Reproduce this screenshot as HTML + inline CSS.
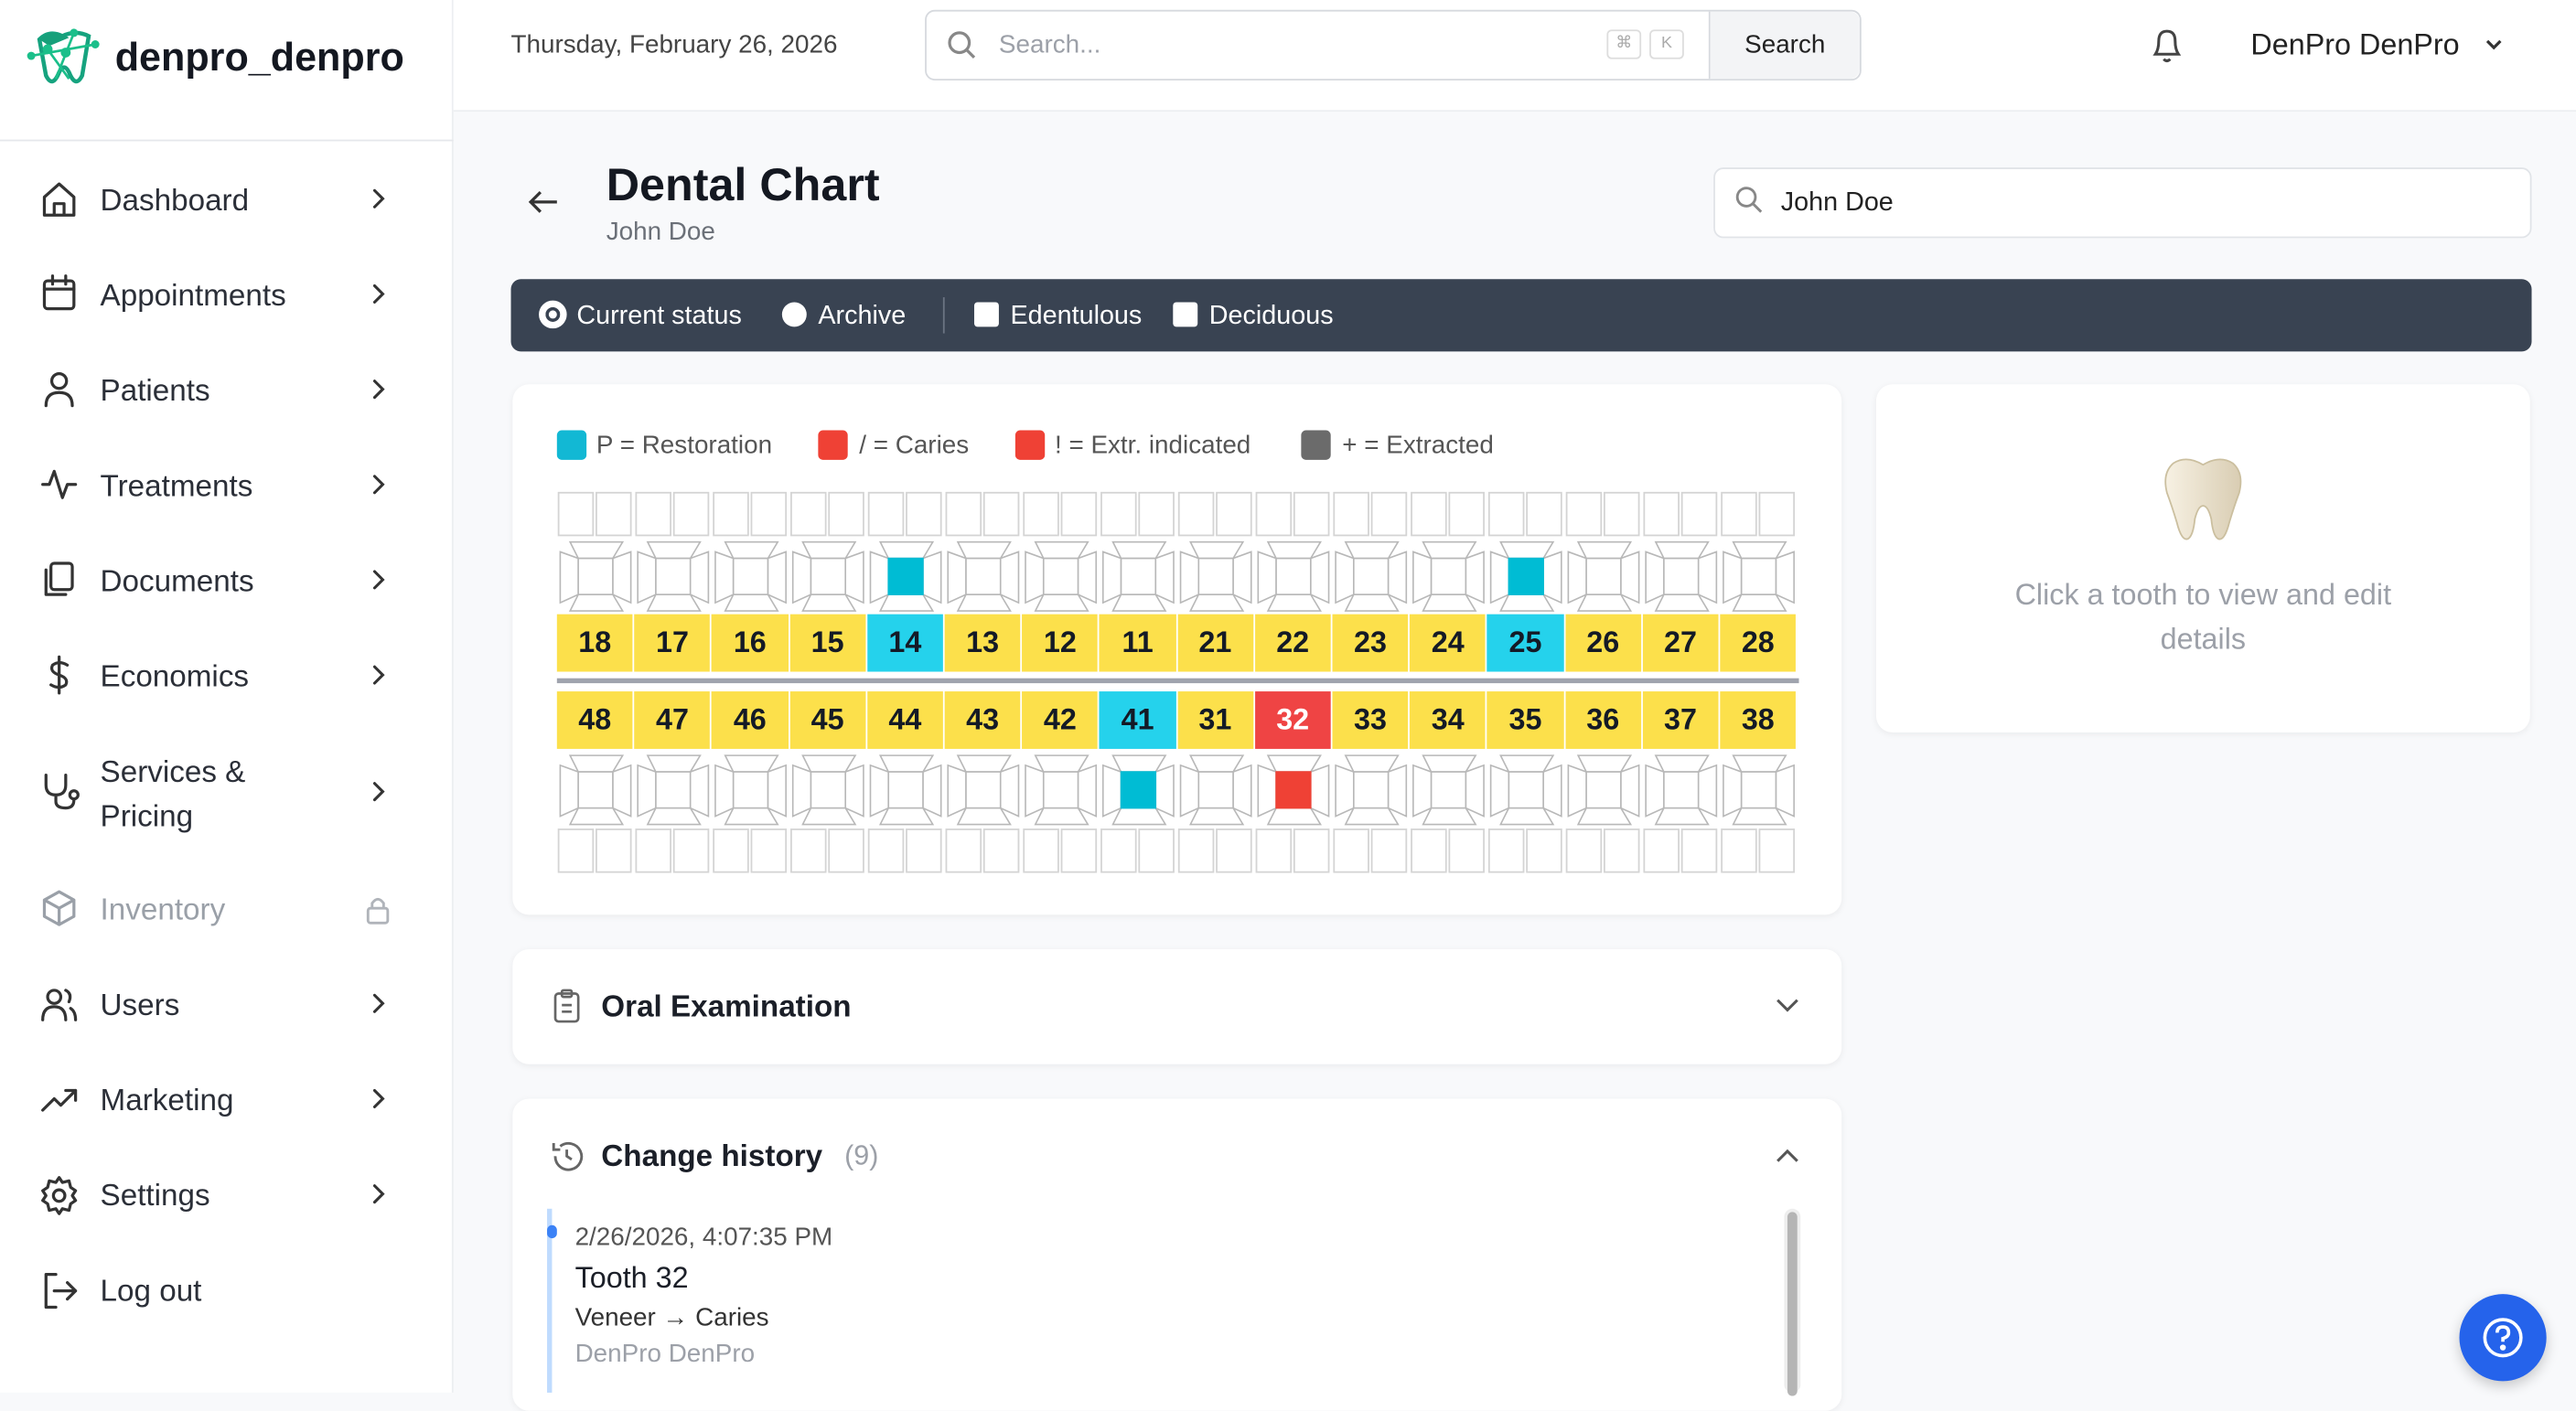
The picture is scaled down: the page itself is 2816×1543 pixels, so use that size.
<!DOCTYPE html>
<html><head><meta charset="utf-8"><style>
*{box-sizing:border-box;margin:0;padding:0}
html,body{width:2816px;height:1522px;overflow:hidden;background:#f8f9fb}
#w{position:absolute;left:0;top:0;width:1568px;height:847.5px;transform:scale(1.79592);transform-origin:0 0;font-family:"Liberation Sans",sans-serif;color:#1f2430;background:#f8f9fb}
.a{position:absolute}
.side{left:0;top:0;width:276px;height:848px;background:#fff;border-right:1px solid #eceef1}
.nav{position:absolute;left:61px;font-size:18.5px;color:#2b2f38}
.chev{position:absolute;left:225px;width:12px;height:14px}
.card{position:absolute;background:#fff;border-radius:10px;box-shadow:0 1px 4px rgba(0,0,0,.06)}
.num{position:absolute;height:35px;width:46.2px;background:#fce04b;font-weight:bold;font-size:18px;text-align:center;line-height:35px;color:#141a26}
</style></head><body><div id="w">
<div class="a side">
  <svg class="a" style="left:16px;top:16px" width="46" height="40" viewBox="0 0 46 40"><path d="M8 8 Q14 2 22 6 Q30 2 38 6 L34 30 Q30 38 26 28 Q23 22 20 28 Q16 38 12 30 Z" fill="none" stroke="#16a37f" stroke-width="2.5"/><path d="M8 8 Q16 0 26 7 L14 12Z" fill="#17a07a"/><g stroke="#1bbf8a" stroke-width="1.5"><line x1="3" y1="18" x2="42" y2="11"/><line x1="13" y1="14" x2="26" y2="32"/><line x1="29" y1="4" x2="18" y2="32"/></g><g fill="#1bbf8a"><circle cx="3" cy="18" r="2.5"/><circle cx="42" cy="11" r="2.5"/><circle cx="29" cy="4" r="2.5"/><circle cx="13" cy="14" r="3"/><circle cx="24" cy="16" r="3"/></g></svg>
  <div class="a" style="left:70px;top:22px;font-size:24px;font-weight:bold;color:#141821">denpro_denpro</div>
  <div class="a" style="left:0;top:85px;width:276px;height:1px;background:#e5e7eb"></div>
  <div class="nav" style="top:111px">Dashboard</div>
  <div class="nav" style="top:169px">Appointments</div>
  <div class="nav" style="top:227px">Patients</div>
  <div class="nav" style="top:285px">Treatments</div>
  <div class="nav" style="top:343px">Documents</div>
  <div class="nav" style="top:401px">Economics</div>
  <div class="nav" style="top:456px;line-height:27px">Services &amp;<br>Pricing</div>
  <div class="nav" style="top:543px;color:#9aa0a8">Inventory</div>
  <div class="nav" style="top:601px">Users</div>
  <div class="nav" style="top:659px">Marketing</div>
  <div class="nav" style="top:717px">Settings</div>
  <div class="nav" style="top:775px">Log out</div>
  <svg class="a" style="left:225px;top:114px" width="12" height="630" fill="none" stroke="#333" stroke-width="1.7" stroke-linecap="round">
   <path d="M3 2 L8 7 L3 12"/><path transform="translate(0,58)" d="M3 2 L8 7 L3 12"/><path transform="translate(0,116)" d="M3 2 L8 7 L3 12"/><path transform="translate(0,174)" d="M3 2 L8 7 L3 12"/><path transform="translate(0,232)" d="M3 2 L8 7 L3 12"/><path transform="translate(0,290)" d="M3 2 L8 7 L3 12"/><path transform="translate(0,361)" d="M3 2 L8 7 L3 12"/><path transform="translate(0,490)" d="M3 2 L8 7 L3 12"/><path transform="translate(0,548)" d="M3 2 L8 7 L3 12"/><path transform="translate(0,606)" d="M3 2 L8 7 L3 12"/>
  </svg>
  <svg class="a" style="left:24px;top:108px" width="26" height="720" fill="none" stroke="#333" stroke-width="1.8" stroke-linecap="round" stroke-linejoin="round">
   <path d="M3 12 L12 4 L21 12 V23 H3Z M9 23 V16 H15 V23"/>
   <g transform="translate(0,58)"><rect x="3" y="5" width="18" height="17" rx="2"/><line x1="3" y1="10" x2="21" y2="10"/><line x1="8" y1="2" x2="8" y2="7"/><line x1="16" y1="2" x2="16" y2="7"/></g>
   <g transform="translate(0,116)"><circle cx="12" cy="8" r="4.5"/><path d="M4 23 Q4 15 12 15 Q20 15 20 23"/></g>
   <g transform="translate(0,174)"><path d="M2 13 H6 L9 5 L14 21 L17 13 H22"/></g>
   <g transform="translate(0,232)"><rect x="7" y="3" width="13" height="16" rx="2"/><path d="M4 7 V22 H16"/></g>
   <g transform="translate(0,290)"><path d="M12 2 V24 M17 7 Q12 4 8 7 Q6 11 12 13 Q18 15 16 19 Q12 22 7 19"/></g>
   <g transform="translate(0,361)"><path d="M4 3 V9 Q4 15 10 15 Q16 15 16 9 V3 M10 15 V19 Q10 23 16 23 Q21 23 21 18"/><circle cx="21" cy="15" r="2.5"/></g>
   <g transform="translate(0,433)" stroke="#9aa0a8"><path d="M12 2 L21 7 V17 L12 22 L3 17 V7Z M3 7 L12 12 L21 7 M12 12 V22"/></g>
   <g transform="translate(0,491)"><circle cx="9" cy="8" r="4"/><path d="M2 22 Q2 14 9 14 Q16 14 16 22 M16 4 Q20 6 18 11 M19 15 Q22 17 22 22"/></g>
   <g transform="translate(0,549)"><path d="M2 19 L9 12 L13 16 L22 7 M16 7 H22 V13"/></g>
   <g transform="translate(0,607)"><circle cx="12" cy="13" r="3.5"/><path d="M12 2 L14 5 L18 4 L19 8 L22 10 L20 13 L22 16 L19 18 L18 22 L14 21 L12 24 L10 21 L6 22 L5 18 L2 16 L4 13 L2 10 L5 8 L6 4 L10 5Z"/></g>
   <g transform="translate(0,665)"><path d="M10 3 H4 V23 H10 M9 13 H22 M17 8 L22 13 L17 18"/></g>
  </svg>
  <svg class="a" style="left:222px;top:545px" width="16" height="18" fill="none" stroke="#b0b4ba" stroke-width="1.6"><rect x="2" y="8" width="12" height="9" rx="1.5"/><path d="M4.5 8 V5 Q8 0 11.5 5 V8"/></svg>
</div>
<!-- header -->
<div class="a" style="left:276px;top:0;width:1292px;height:68px;background:#fff;border-bottom:1px solid #eceef1"></div>
<div class="a" style="left:311px;top:19px;font-size:15.5px;color:#444">Thursday, February 26, 2026</div>
<div class="a" style="left:563px;top:6px;width:570px;height:43px;border:1px solid #d6d9de;border-radius:6px;background:#fff"></div>
<svg class="a" style="left:576px;top:18px" width="20" height="20" fill="none" stroke="#888" stroke-width="1.8"><circle cx="8" cy="8" r="6"/><line x1="12.5" y1="12.5" x2="17" y2="17"/></svg>
<div class="a" style="left:608px;top:19px;font-size:15.5px;color:#9ca0a8">Search...</div>
<div class="a" style="left:978px;top:18px;width:21px;height:18px;border:1px solid #ddd;border-radius:3px;font-size:10px;color:#aaa;text-align:center;line-height:16px">⌘</div>
<div class="a" style="left:1004px;top:18px;width:21px;height:18px;border:1px solid #ddd;border-radius:3px;font-size:10px;color:#aaa;text-align:center;line-height:16px">K</div>
<div class="a" style="left:1040px;top:7px;width:92px;height:41px;background:#f3f4f6;border-left:1px solid #d6d9de;border-radius:0 6px 6px 0;font-size:15.5px;text-align:center;line-height:42px;color:#222">Search</div>
<svg class="a" style="left:1308px;top:16px" width="22" height="24" fill="none" stroke="#444" stroke-width="1.7"><path d="M4 17 Q6 14 6 9 Q6 3 11 3 Q16 3 16 9 Q16 14 18 17Z M9 20 Q11 22 13 20"/></svg>
<div class="a" style="left:1370px;top:17px;font-size:18px;color:#222">DenPro DenPro</div>
<svg class="a" style="left:1511px;top:20px" width="14" height="14" fill="none" stroke="#333" stroke-width="1.8"><path d="M3 5 L7 9 L11 5"/></svg>
<!-- title -->
<svg class="a" style="left:320px;top:113px" width="22" height="20" fill="none" stroke="#333" stroke-width="1.8"><path d="M19 10 H3 M9 4 L3 10 L9 16"/></svg>
<div class="a" style="left:369px;top:97px;font-size:28px;font-weight:bold;color:#141821">Dental Chart</div>
<div class="a" style="left:369px;top:133px;font-size:15.5px;color:#6b7078">John Doe</div>
<div class="a" style="left:1043px;top:102px;width:498px;height:43px;border:1px solid #e1e4e8;border-radius:6px;background:#fff"></div>
<svg class="a" style="left:1056px;top:113px" width="18" height="18" fill="none" stroke="#888" stroke-width="1.6"><circle cx="7" cy="7" r="5.5"/><line x1="11" y1="11" x2="16" y2="16"/></svg>
<div class="a" style="left:1084px;top:115px;font-size:16px;color:#222">John Doe</div>
<!-- dark bar -->
<div class="a" style="left:311px;top:170px;width:1230px;height:44px;background:#394352;border-radius:6px"></div>
<div class="a" style="left:328px;top:183px;width:17px;height:17px;border-radius:50%;background:#fff;border:4px solid #fff;box-shadow:inset 0 0 0 2px #394352"></div>
<div class="a" style="left:351px;top:184px;font-size:16px;color:#fff">Current status</div>
<div class="a" style="left:476px;top:184px;width:15px;height:15px;border-radius:50%;background:#fff"></div>
<div class="a" style="left:498px;top:184px;font-size:16px;color:#fff">Archive</div>
<div class="a" style="left:574px;top:181px;width:1px;height:22px;background:#6b7483"></div>
<div class="a" style="left:593px;top:184px;width:15px;height:15px;border-radius:2px;background:#fff"></div>
<div class="a" style="left:615px;top:184px;font-size:16px;color:#fff">Edentulous</div>
<div class="a" style="left:714px;top:184px;width:15px;height:15px;border-radius:2px;background:#fff"></div>
<div class="a" style="left:736px;top:184px;font-size:16px;color:#fff">Deciduous</div>
<!-- chart card -->
<div class="card" style="left:312px;top:234px;width:809px;height:323px"></div>
<div class="a" style="left:339px;top:262px;width:18px;height:18px;border-radius:3px;background:#12b8d4"></div>
<div class="a" style="left:363px;top:263px;font-size:15.5px;color:#555">P = Restoration</div>
<div class="a" style="left:498px;top:262px;width:18px;height:18px;border-radius:3px;background:#ef4135"></div>
<div class="a" style="left:523px;top:263px;font-size:15.5px;color:#555">/ = Caries</div>
<div class="a" style="left:618px;top:262px;width:18px;height:18px;border-radius:3px;background:#ef4135"></div>
<div class="a" style="left:642px;top:263px;font-size:15.5px;color:#555">! = Extr. indicated</div>
<div class="a" style="left:792px;top:262px;width:18px;height:18px;border-radius:3px;background:#6b6b6b"></div>
<div class="a" style="left:817px;top:263px;font-size:15.5px;color:#555">+ = Extracted</div>
<svg id="teeth" class="a" style="left:339px;top:298px" width="757" height="235"></svg>
<div class="a" style="left:339px;top:374px;width:756px;height:35px">
<div class="num" style="left:0">18</div><div class="num" style="left:47.2px">17</div><div class="num" style="left:94.4px">16</div><div class="num" style="left:141.6px">15</div><div class="num" style="left:188.8px;background:#25d2ec">14</div><div class="num" style="left:236px">13</div><div class="num" style="left:283.2px">12</div><div class="num" style="left:330.4px">11</div><div class="num" style="left:377.6px">21</div><div class="num" style="left:424.8px">22</div><div class="num" style="left:472px">23</div><div class="num" style="left:519.2px">24</div><div class="num" style="left:566.4px;background:#25d2ec">25</div><div class="num" style="left:613.6px">26</div><div class="num" style="left:660.8px">27</div><div class="num" style="left:708px">28</div>
</div>
<div class="a" style="left:339px;top:413px;width:756px;height:3px;background:#9fa3ad"></div>
<div class="a" style="left:339px;top:421px;width:756px;height:35px">
<div class="num" style="left:0">48</div><div class="num" style="left:47.2px">47</div><div class="num" style="left:94.4px">46</div><div class="num" style="left:141.6px">45</div><div class="num" style="left:188.8px">44</div><div class="num" style="left:236px">43</div><div class="num" style="left:283.2px">42</div><div class="num" style="left:330.4px;background:#25d2ec">41</div><div class="num" style="left:377.6px">31</div><div class="num" style="left:424.8px;background:#ef4444;color:#fff">32</div><div class="num" style="left:472px">33</div><div class="num" style="left:519.2px">34</div><div class="num" style="left:566.4px">35</div><div class="num" style="left:613.6px">36</div><div class="num" style="left:660.8px">37</div><div class="num" style="left:708px">38</div>
</div>
<!-- right card -->
<div class="card" style="left:1142px;top:234px;width:398px;height:212px"></div>
<svg class="a" style="left:1314px;top:276px" width="54" height="56" viewBox="0 0 54 56"><defs><linearGradient id="tg" x1="0" x2="1"><stop offset="0" stop-color="#f7f1e3"/><stop offset="1" stop-color="#d9cdb3"/></linearGradient></defs><path d="M27 7 Q17 1 9 6 Q2 12 5 24 Q8 32 11 42 Q14 54 18 52 Q21 50 22 40 Q24 32 27 32 Q30 32 32 40 Q33 50 36 52 Q40 54 43 42 Q46 32 49 24 Q52 12 45 6 Q37 1 27 7Z" fill="url(#tg)" stroke="#cbbf9f" stroke-width="1"/></svg>
<div class="a" style="left:1142px;top:349px;width:398px;text-align:center;font-size:18px;line-height:27px;color:#9ca0a8">Click a tooth to view and edit<br>details</div>
<!-- oral exam -->
<div class="card" style="left:312px;top:578px;width:809px;height:70px"></div>
<svg class="a" style="left:335px;top:602px" width="20" height="22" fill="none" stroke="#666" stroke-width="1.5"><rect x="3" y="3" width="14" height="17" rx="2"/><rect x="7" y="1" width="6" height="4" rx="1"/><line x1="7" y1="10" x2="13" y2="10"/><line x1="7" y1="14" x2="13" y2="14"/></svg>
<div class="a" style="left:366px;top:602px;font-size:18.5px;font-weight:bold;color:#1b1f28">Oral Examination</div>
<svg class="a" style="left:1080px;top:605px" width="16" height="14" fill="none" stroke="#555" stroke-width="1.7"><path d="M2 4 L8 10 L14 4"/></svg>
<!-- history -->
<div class="card" style="left:312px;top:669px;width:809px;height:190px"></div>
<svg class="a" style="left:334px;top:693px" width="22" height="22" fill="none" stroke="#666" stroke-width="1.6"><path d="M4 11 A8 8 0 1 0 7 5 M3 3 V7 H7 M11 7 V11 L14 13"/></svg>
<div class="a" style="left:366px;top:693px;font-size:18.5px;font-weight:bold;color:#1b1f28">Change history</div>
<div class="a" style="left:514px;top:694px;font-size:17px;color:#9ca0a8">(9)</div>
<svg class="a" style="left:1080px;top:697px" width="16" height="14" fill="none" stroke="#555" stroke-width="1.7"><path d="M2 10 L8 4 L14 10"/></svg>
<div class="a" style="left:333px;top:736px;width:3px;height:112px;background:#bfdbfe"></div>
<div class="a" style="left:333px;top:746px;width:6px;height:8px;border-radius:3px;background:#3b82f6"></div>
<div class="a" style="left:350px;top:745px;font-size:15.5px;color:#555">2/26/2026, 4:07:35 PM</div>
<div class="a" style="left:350px;top:768px;font-size:18px;color:#1b1f28">Tooth 32</div>
<div class="a" style="left:350px;top:794px;font-size:15.5px;color:#333">Veneer → Caries</div>
<div class="a" style="left:350px;top:816px;font-size:15.5px;color:#9ca0a8">DenPro DenPro</div>
<div class="a" style="left:1086px;top:736px;width:10px;height:112px;background:#eee;border-radius:5px"></div>
<div class="a" style="left:1088px;top:738px;width:6px;height:112px;background:#b5b5b5;border-radius:3px"></div>
<!-- help -->
<div class="a" style="left:1497px;top:788px;width:53px;height:53px;border-radius:50%;background:#2563eb;box-shadow:0 3px 8px rgba(0,0,0,.2)"></div>
<svg class="a" style="left:1510px;top:801px" width="27" height="27" fill="none" stroke="#fff" stroke-width="2"><circle cx="13.5" cy="13.5" r="11"/><path d="M10 10.5 Q10 7 13.5 7 Q17 7 17 10.5 Q17 13 13.5 14 V16"/><circle cx="13.5" cy="19.5" r=".8" fill="#fff"/></svg>
</div>
<script>
(function(){
var s=document.getElementById('teeth'),h='',p=47.2;
var up={4:'#00bcd4',12:'#00bcd4'},lo={7:'#00bcd4',9:'#ef4135'};
function crown(x,y,fill){
 var o='';
 o+='<polygon points="'+(x+8)+','+y+' '+(x+40)+','+y+' '+(x+34)+','+(y+10)+' '+(x+13)+','+(y+10)+'"/>';
 o+='<polygon points="'+(x+8)+','+(y+42)+' '+(x+40)+','+(y+42)+' '+(x+34)+','+(y+32)+' '+(x+13)+','+(y+32)+'"/>';
 o+='<polygon points="'+(x+2)+','+(y+6)+' '+(x+13)+','+(y+10)+' '+(x+13)+','+(y+32)+' '+(x+2)+','+(y+37)+'"/>';
 o+='<polygon points="'+(x+45)+','+(y+6)+' '+(x+34)+','+(y+10)+' '+(x+34)+','+(y+32)+' '+(x+45)+','+(y+37)+'"/>';
 o+='<rect x="'+(x+13)+'" y="'+(y+10)+'" width="21" height="22"'+(fill?' fill="'+fill+'" stroke="'+fill+'"':'')+'/>';
 return o;
}
h+='<g fill="none" stroke="#d4d4d4" stroke-width="1">';
for(var i=0;i<16;i++){
 var x=i*p;
 h+='<rect x="'+(x+1)+'" y="2" width="21" height="26"/><rect x="'+(x+24)+'" y="2" width="21" height="26"/>';
 h+='<rect x="'+(x+1)+'" y="207" width="21" height="26"/><rect x="'+(x+24)+'" y="207" width="21" height="26"/>';
}
h+='</g><g fill="#fff" stroke="#b8b8b8" stroke-width="0.9">';
for(var i=0;i<16;i++){var x=i*p;h+=crown(x,32,up[i]);h+=crown(x,162,lo[i]);}
h+='</g>';
s.innerHTML=h;
})();
</script>
</body></html>
